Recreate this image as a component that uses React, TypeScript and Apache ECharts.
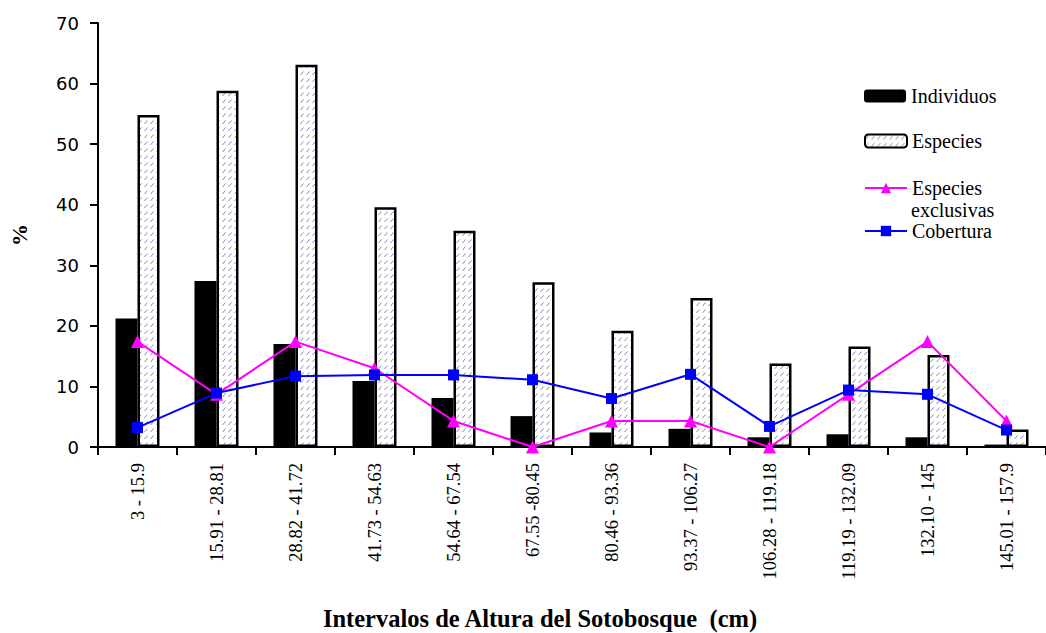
import React, { useEffect, useRef } from "react";
import * as echarts from "echarts";

const categories = [
  "3 - 15.9",
  "15.91 - 28.81",
  "28.82 - 41.72",
  "41.73 - 54.63",
  "54.64 - 67.54",
  "67.55 -80.45",
  "80.46 - 93.36",
  "93.37 - 106.27",
  "106.28 - 119.18",
  "119.19 - 132.09",
  "132.10 - 145",
  "145.01 - 157.9",
];
const individuos = [21.2, 27.4, 17.0, 10.9, 8.1, 5.1, 2.4, 3.0, 1.6, 2.1, 1.6, 0.4];
const especies = [54.8, 58.8, 63.1, 39.6, 35.7, 27.2, 19.2, 24.6, 13.8, 16.6, 15.2, 2.9];
const especiesExclusivas = [17.4, 8.7, 17.4, 13.0, 4.3, 0, 4.3, 4.3, 0, 8.7, 17.4, 4.3];
const cobertura = [3.2, 8.9, 11.7, 11.9, 11.9, 11.1, 8.0, 12.0, 3.4, 9.4, 8.7, 2.8];

const yMin = 0;
const yMax = 70;
const yInterval = 10;

const SERIF = "Liberation Serif";
const SANS = "DejaVu Sans";

function makePattern(): HTMLCanvasElement {
  const c = document.createElement("canvas");
  c.width = 6;
  c.height = 7;
  const ctx = c.getContext("2d")!;
  ctx.fillStyle = "#ffffff";
  ctx.fillRect(0, 0, 6, 7);
  ctx.strokeStyle = "#8585bb";
  ctx.lineWidth = 1;
  ctx.beginPath();
  ctx.moveTo(0.5, 5);
  ctx.lineTo(3.5, 1.5);
  ctx.stroke();
  return c;
}

export default function App() {
  const ref = useRef<HTMLDivElement>(null);
  useEffect(() => {
    if (!ref.current) return;
    const chart = echarts.init(ref.current, undefined, { renderer: "svg" });
    const pattern = { image: makePattern(), repeat: "repeat" };
    const legendBase = {
      orient: "vertical",
      itemWidth: 42,
      itemHeight: 13,
      itemGap: 5,
      left: 859,
      textStyle: { fontFamily: SERIF, fontSize: 20, color: "#000" },
    };
    chart.setOption({
      animation: false,
      backgroundColor: "#ffffff",
      grid: { left: 93, top: 23, width: 963, height: 424, containLabel: false },
      legend: [
        { ...legendBase, top: 81, data: ["Individuos"] },
        { ...legendBase, top: 126, data: ["Especies"] },
        {
          ...legendBase,
          top: 173,
          data: ["Especies exclusivas"],
          formatter: () => "Especies",
        },
        { ...legendBase, top: 216, data: ["Cobertura"] },
      ],
      graphic: [
        {
          type: "text",
          left: 911,
          top: 200,
          style: { text: "exclusivas", fontFamily: SERIF, fontSize: 20, fill: "#000" },
        },
        {
          type: "text",
          x: 540,
          y: 618,
          style: {
            text: "Intervalos de Altura del Sotobosque  (cm)",
            fontFamily: SERIF,
            fontSize: 24.5,
            fontWeight: "bold",
            fill: "#000",
            align: "center",
            verticalAlign: "middle",
          },
        },
      ],
      xAxis: {
        type: "category",
        data: categories,
        boundaryGap: true,
        axisLine: { lineStyle: { color: "#000", width: 2 } },
        axisTick: { show: true, interval: 0, length: 8, lineStyle: { color: "#000", width: 2 } },
        axisLabel: {
          interval: 0,
          rotate: 90,
          margin: 16,
          fontFamily: SERIF,
          fontSize: 18.5,
          color: "#000",
        },
        splitLine: { show: false },
      },
      yAxis: {
        type: "value",
        min: yMin,
        max: yMax,
        interval: yInterval,
        name: "%",
        nameLocation: "middle",
        nameGap: 68,
        nameRotate: 90,
        nameTextStyle: { fontFamily: SERIF, fontSize: 22, fontWeight: "bold", color: "#000" },
        axisLine: { show: true, lineStyle: { color: "#000", width: 2 } },
        axisTick: { show: true, length: 8, lineStyle: { color: "#000", width: 2 } },
        axisLabel: { margin: 19, fontFamily: SANS, fontSize: 18, color: "#000" },
        splitLine: { show: false },
      },
      series: [
        {
          name: "Individuos",
          type: "bar",
          data: individuos,
          barWidth: 22,
          barGap: "0%",
          itemStyle: { color: "#000000" },
        },
        {
          name: "Especies",
          type: "bar",
          data: especies,
          barWidth: 22,
          barGap: "0%",
          itemStyle: { color: pattern, borderColor: "#000", borderWidth: 2.5 },
        },
        {
          name: "Especies exclusivas",
          type: "line",
          data: especiesExclusivas,
          symbol: "triangle",
          symbolSize: 13,
          z: 5,
          lineStyle: { color: "#ff00ff", width: 2 },
          itemStyle: { color: "#ff00ff" },
        },
        {
          name: "Cobertura",
          type: "line",
          data: cobertura,
          symbol: "rect",
          symbolSize: 11,
          z: 6,
          lineStyle: { color: "#0000ff", width: 2 },
          itemStyle: { color: "#0000ff" },
        },
      ],
    });
    return () => chart.dispose();
  }, []);
  return (
    <div
      ref={ref}
      style={{ position: "fixed", left: 0, top: 0, width: 1046, height: 633, background: "#fff" }}
    />
  );
}
